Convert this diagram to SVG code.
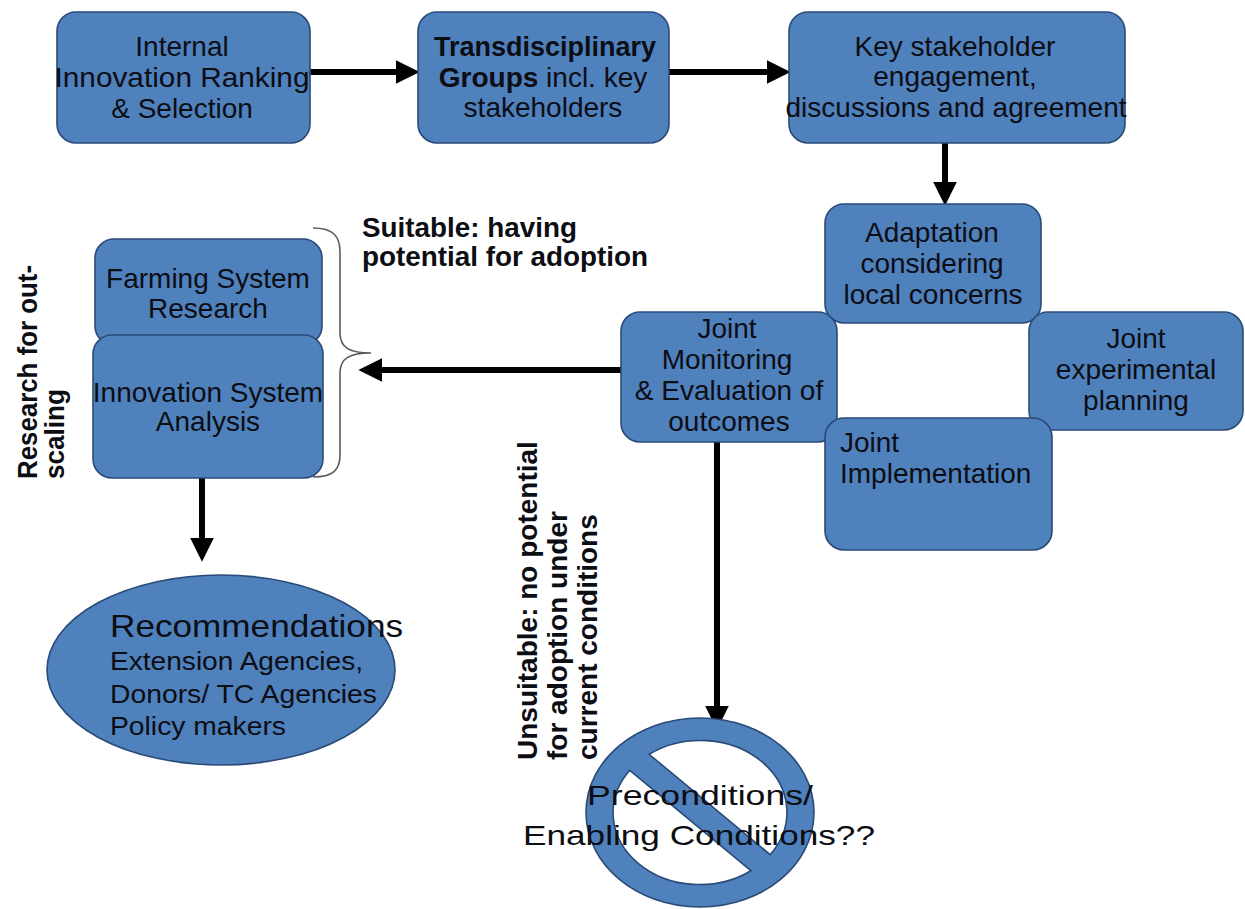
<svg xmlns="http://www.w3.org/2000/svg" width="1245" height="909" viewBox="0 0 1245 909">
<defs>
<style>
.box{fill:#4F81BD;stroke:#2A4A78;stroke-width:1.6}
.t{font-family:"Liberation Sans",Arial,sans-serif;font-size:28px;fill:#0d0d14}
.c{text-anchor:middle}
.b{font-weight:bold}
.conn{stroke:#000;stroke-width:6;fill:none}
.brace{stroke:#5a5a5a;stroke-width:1.6;fill:none}
</style>
<marker id="ah" markerUnits="userSpaceOnUse" markerWidth="24" markerHeight="24" viewBox="0 0 22 22" refX="4" refY="11" orient="auto">
<path d="M0,0 L22,11 L0,22 Z" fill="#000"/>
</marker>
</defs>
<rect width="1245" height="909" fill="#fff"/>

<g id="connectors">
<line class="conn" x1="310" y1="72" x2="400" y2="72" marker-end="url(#ah)"/>
<line class="conn" x1="669" y1="72" x2="771" y2="72" marker-end="url(#ah)"/>
<line class="conn" x1="945" y1="143" x2="945" y2="186" marker-end="url(#ah)"/>
<line class="conn" x1="621" y1="370" x2="378" y2="370" marker-end="url(#ah)"/>
<line class="conn" x1="202" y1="478" x2="202" y2="542" marker-end="url(#ah)"/>
<line class="conn" x1="717" y1="442" x2="717" y2="710" marker-end="url(#ah)"/>
</g>

<g id="n-internal">
<rect class="box" x="57" y="12" width="253" height="131" rx="19"/>
<text class="t c" x="182"><tspan x="182" y="56">Internal</tspan><tspan x="182" y="87" textLength="255" lengthAdjust="spacingAndGlyphs">Innovation Ranking</tspan><tspan x="182" y="118">&amp; Selection</tspan></text>
</g>

<g id="n-transdisciplinary">
<rect class="box" x="418" y="12" width="251" height="131" rx="19"/>
<text class="t c" x="544"><tspan x="545" y="56" class="b" font-size="27">Transdisciplinary</tspan><tspan x="543" y="87"><tspan class="b">Groups</tspan> incl. key</tspan><tspan x="543" y="117">stakeholders</tspan></text>
</g>

<g id="n-key">
<rect class="box" x="789" y="12" width="336" height="131" rx="19"/>
<text class="t c" x="957"><tspan x="955" y="56">Key stakeholder</tspan><tspan x="955" y="86">engagement,</tspan><tspan x="956" y="117" textLength="341" lengthAdjust="spacingAndGlyphs">discussions and agreement</tspan></text>
</g>

<g id="n-adaptation">
<rect class="box" x="825" y="204" width="216" height="119" rx="19"/>
<text class="t c"><tspan x="932" y="242">Adaptation</tspan><tspan x="932" y="273">considering</tspan><tspan x="933" y="304">local concerns</tspan></text>
</g>

<g id="n-experimental">
<rect class="box" x="1029" y="312" width="214" height="118" rx="19"/>
<text class="t c"><tspan x="1136" y="348">Joint</tspan><tspan x="1136" y="379">experimental</tspan><tspan x="1136" y="410">planning</tspan></text>
</g>

<g id="n-monitoring">
<rect class="box" x="621" y="312" width="216" height="130" rx="19"/>
<text class="t c"><tspan x="727" y="338">Joint</tspan><tspan x="727" y="369">Monitoring</tspan><tspan x="729" y="400">&amp; Evaluation of</tspan><tspan x="729" y="431">outcomes</tspan></text>
</g>

<g id="n-implementation">
<rect class="box" x="825" y="418" width="227" height="132" rx="19"/>
<text class="t"><tspan x="840" y="452">Joint</tspan><tspan x="840" y="483">Implementation</tspan></text>
</g>

<g id="n-farming">
<rect class="box" x="95" y="239" width="227" height="106" rx="19"/>
<text class="t c"><tspan x="208" y="288">Farming System</tspan><tspan x="208" y="318">Research</tspan></text>
</g>

<g id="n-innovation">
<rect class="box" x="93" y="335" width="230" height="143" rx="19"/>
<text class="t c"><tspan x="208" y="402">Innovation System</tspan><tspan x="208" y="431">Analysis</tspan></text>
</g>

<g id="brace">
<path class="brace" d="M313,228 C333,228 340,236 340,252 L340,333 C340,348 350,353 371,353 C350,353 340,358 340,373 L340,455 C340,470 333,477 313,477"/>
</g>

<g id="label-suitable">
<text class="t b" font-size="27"><tspan x="362" y="237" textLength="215" lengthAdjust="spacingAndGlyphs">Suitable: having</tspan><tspan x="362" y="266" textLength="286" lengthAdjust="spacingAndGlyphs">potential for adoption</tspan></text>
</g>

<g id="label-research">
<text class="t b" font-size="25" transform="translate(37,479) rotate(-90)"><tspan x="0" y="0" textLength="214" lengthAdjust="spacingAndGlyphs">Research for out-</tspan><tspan x="0" y="27" textLength="90" lengthAdjust="spacingAndGlyphs">scaling</tspan></text>
</g>

<g id="label-unsuitable">
<text class="t b" font-size="28" transform="translate(537,760) rotate(-90)"><tspan x="0" y="0">Unsuitable: no potential</tspan><tspan x="0" y="29.5">for adoption under</tspan><tspan x="0" y="60">current conditions</tspan></text>
</g>

<g id="n-recommendations">
<ellipse cx="221" cy="670" rx="174" ry="95" fill="#4F81BD" stroke="#2A4A78" stroke-width="1.6"/>
<text class="t"><tspan x="110" y="637" font-size="32" textLength="293" lengthAdjust="spacingAndGlyphs">Recommendations</tspan><tspan x="110" y="670" font-size="26" textLength="253" lengthAdjust="spacingAndGlyphs">Extension Agencies,</tspan><tspan x="110" y="703" font-size="26" textLength="267" lengthAdjust="spacingAndGlyphs">Donors/ TC Agencies</tspan><tspan x="110" y="735" font-size="26" textLength="176" lengthAdjust="spacingAndGlyphs">Policy makers</tspan></text>
</g>

<g id="n-preconditions">
<path fill="#4F81BD" stroke="#2A4A78" stroke-width="1.6" vector-effect="non-scaling-stroke" fill-rule="evenodd" transform="translate(700,812.5) scale(1.14,0.945) rotate(45)" d="M100,0 A100,100 0 1,0 -100,0 A100,100 0 1,0 100,0 Z M-75.1,12 A76,76 0 0,0 75.1,12 Z M-75.1,-12 A76,76 0 0,1 75.1,-12 Z"/>
<text class="t c" font-size="31" fill="#1a1a1a"><tspan x="700" y="805" textLength="226" lengthAdjust="spacingAndGlyphs">Preconditions/</tspan><tspan x="699" y="845" textLength="352" lengthAdjust="spacingAndGlyphs">Enabling Conditions??</tspan></text>
</g>
</svg>
